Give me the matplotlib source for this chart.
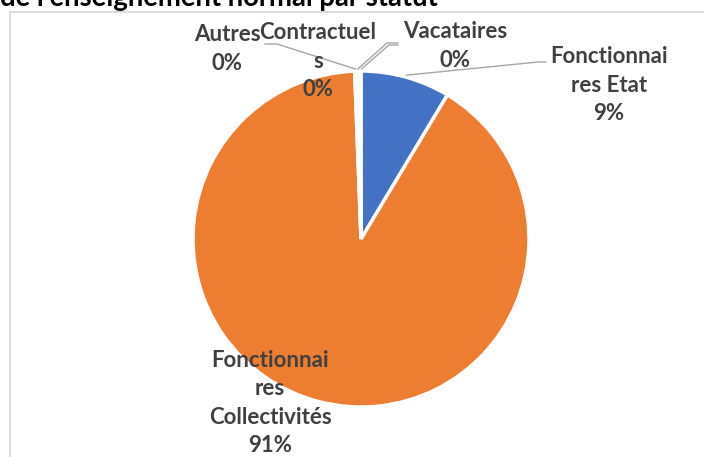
import numpy as np
import matplotlib.pyplot as plt
from matplotlib.patches import Rectangle

# répartition par statut (en %)
categories = ["Fonctionnaires Etat", "Fonctionnaires Collectivités", "Autres", "Contractuels", "Vacataires"]
wrapped = ["Fonctionnai\nres Etat", "Fonctionnai\nres\nCollectivités", "Autres", "Contractuel\ns", "Vacataires"]
values = [8.6, 90.8, 0.2, 0.2, 0.2]
colors = ["#4472C4", "#ED7D31", "#A5A5A5", "#FFC000", "#5B9BD5"]

W, H = 704, 457
fig = plt.figure(figsize=(W / 100, H / 100), dpi=100)
ax = fig.add_axes([0, 0, 1, 1])
ax.set_xlim(0, W)
ax.set_ylim(0, H)
ax.axis("off")

def py(y):
    return H - y

# cadre du graphique
ax.add_patch(Rectangle((10, py(H + 20)), W + 20, H + 20 - 12, fill=False,
                       edgecolor="#D9D9D9", lw=1.3))

ax.text(0, py(6), "de l'enseignement normal par statut", fontsize=19.8,
        fontweight="bold", family="Lato", color="black", ha="left", va="baseline")

cx, cy, r = 361, 239, 168
wedges, _ = ax.pie(values, colors=colors, startangle=90, counterclock=False,
                   center=(cx, py(cy)), radius=r,
                   wedgeprops=dict(edgecolor="white", linewidth=2.5))
ax.set_xlim(0, W)
ax.set_ylim(0, H)

total = sum(values)
pct = [f"{round(v / total * 100)}%" for v in values]

# angle milieu de chaque part (degrés, sens horaire depuis midi)
cum = np.cumsum([0] + values)
mid = [(cum[i] + cum[i + 1]) / 2 / total * 360 for i in range(len(values))]

def edge(i, rr=r + 2):
    a = np.deg2rad(mid[i])
    return cx + rr * np.sin(a), py(cy - rr * np.cos(a))

label_pos = [(609, 85), (270, 403), (227, 49), (318, 61), (455, 46)]
for i, (lx, ly) in enumerate(label_pos):
    ax.text(lx, py(ly), wrapped[i] + "\n" + pct[i], fontsize=16,
            fontweight="bold", family="Lato", color="#404040",
            ha="center", va="center", multialignment="center", linespacing=1.45)

lc = "#A6A6A6"
# lignes de rappel
ex, ey = edge(0)
ax.plot([ex, 538, 546], [ey, py(62), py(62)], color=lc, lw=1)
ex, ey = edge(2)
ax.plot([265, 277, ex], [py(44), py(44), ey], color=lc, lw=1)
ex, ey = edge(3)
ax.plot([398, 387, ex], [py(43), py(43), ey], color=lc, lw=1)
ex, ey = edge(4)
ax.plot([398, 389, ex + 1.5], [py(45), py(45), ey], color=lc, lw=1)

fig.savefig("out.png", dpi=100)
